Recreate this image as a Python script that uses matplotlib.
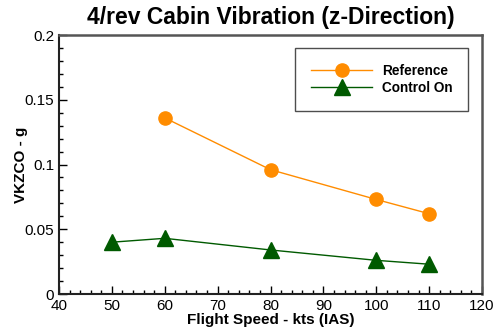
import matplotlib
matplotlib.use("Agg")
import matplotlib.pyplot as plt
from matplotlib.ticker import MultipleLocator

plt.rcParams['font.family'] = ['Liberation Sans', 'DejaVu Sans']

ref_x = [60, 80, 100, 110]
ref_y = [0.136, 0.096, 0.073, 0.062]
ctl_x = [50, 60, 80, 100, 110]
ctl_y = [0.040, 0.043, 0.034, 0.026, 0.023]
xticks = [40, 50, 60, 70, 80, 90, 100, 110, 120]
yticks = [0, 0.05, 0.1, 0.15, 0.2]
ytick_labels = ['0', '0.05', '0.1', '0.15', '0.2']

fig = plt.figure(figsize=(4.93, 3.27), dpi=100)
ax = fig.add_axes([59/493, 1-294/327, (482-59)/493, (294-35)/327])

orange = '#FF8C00'
green = '#005A00'
ax.plot(ref_x, ref_y, color=orange, lw=1, marker='o', ms=9.5, mfc=orange, mec=orange, label='Reference')
ax.plot(ctl_x, ctl_y, color=green, lw=1, marker='^', ms=12, mfc=green, mec=green, label='Control On')

ax.set_xlim(40, 120)
ax.set_ylim(0, 0.2)
ax.set_xticks(xticks)
ax.set_xticklabels([str(v) for v in xticks])
ax.set_yticks(yticks)
ax.set_yticklabels(ytick_labels)
ax.xaxis.set_minor_locator(MultipleLocator(2))
ax.yaxis.set_minor_locator(MultipleLocator(0.01))
ax.tick_params(which='both', direction='in', top=False, right=False, labelsize=11, width=1)
ax.tick_params(which='major', length=6)
ax.tick_params(which='minor', length=3)
for s in ['left', 'bottom']:
    ax.spines[s].set_linewidth(1.5)
    ax.spines[s].set_color('#222222')
for s in ['top', 'right']:
    ax.spines[s].set_linewidth(1.8)
    ax.spines[s].set_color('#555555')

ax.set_xlabel('Flight Speed - kts (IAS)', fontsize=11, fontweight='bold', labelpad=0)
ax.set_ylabel('VKZCO - g', fontsize=11, fontweight='bold')
ax.yaxis.set_label_coords(-0.073, 0.5)
ax.set_title('4/rev Cabin Vibration (z-Direction)', fontsize=16.5, fontweight='bold', pad=8)

leg = ax.legend(loc='upper right', bbox_to_anchor=(0.967, 0.95), borderaxespad=0,
                frameon=True, fancybox=False, edgecolor='#222222', borderpad=1.15,
                handlelength=4.5, handletextpad=0.7, labelspacing=0.25,
                prop={'weight': 'bold', 'size': 9.8})
leg.get_frame().set_linewidth(1)

fig.savefig('out.png', dpi=100)
